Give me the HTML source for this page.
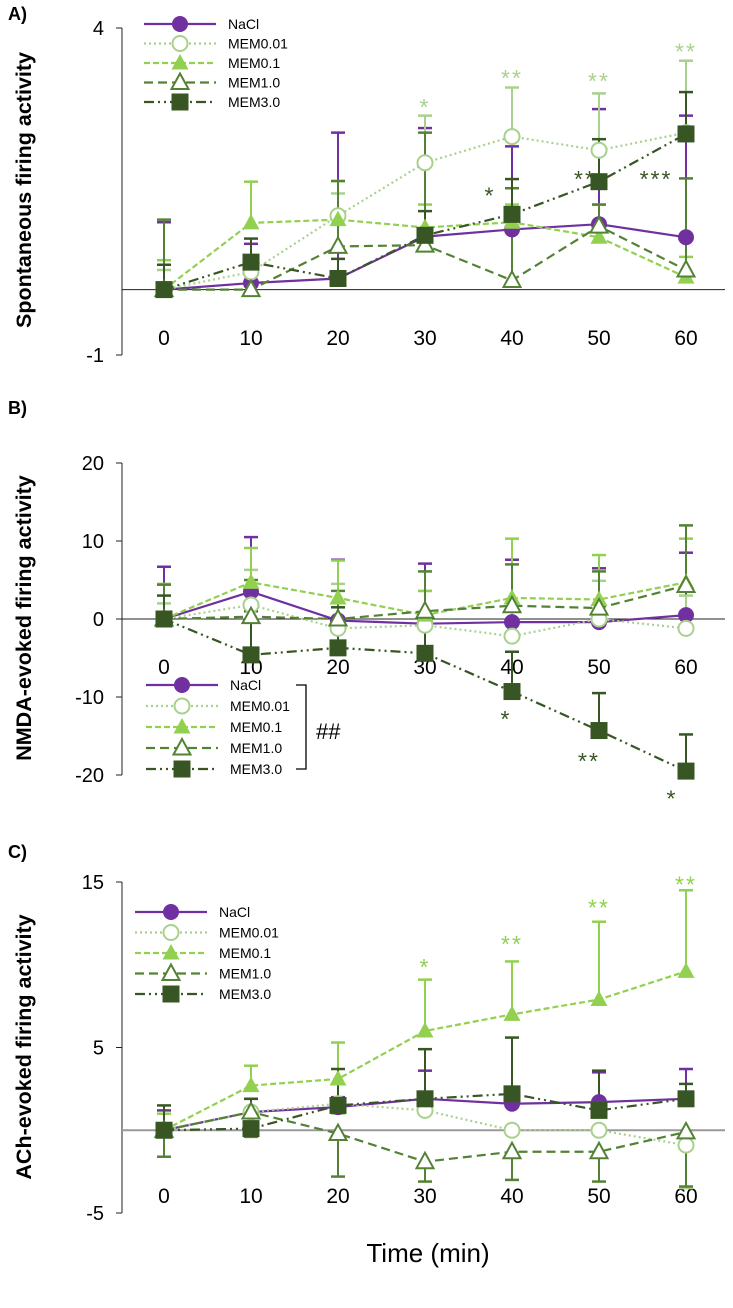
<!DOCTYPE html>
<html><head><meta charset="utf-8"><style>
body{margin:0;background:#fff;width:733px;height:1308px;overflow:hidden}
svg{display:block;font-family:"Liberation Sans",sans-serif}
</style></head><body>
<svg id="chart" width="733" height="1308"></svg>
<script>
const times=[0,10,20,30,40,50,60];
const xTickLabels=["0","10","20","30","40","50","60"];
const seriesNames=["NaCl","MEM0.01","MEM0.1","MEM1.0","MEM3.0"];
// Panel A values / error-bar ends
const aNaCl=[0,0.1,0.17,0.81,0.92,1.0,0.8];
const aMem001=[0,0.27,1.13,1.94,2.34,2.13,2.4];
const aMem01=[0,1.02,1.07,0.95,1.03,0.8,0.19];
const aMem10=[0,0,0.66,0.68,0.14,0.97,0.3];
const aMem30=[0,0.42,0.17,0.83,1.15,1.65,2.38];
const aNaClErr=[1.03,0.7,2.4,2.47,2.19,2.76,2.66];
const aMem001Err=[0.3,0.5,1.47,2.66,3.09,3.0,3.5];
const aMem01Err=[0.45,1.65,1.66,1.3,1.3,1.3,0.5];
const aMem10Err=[1.07,0.3,1.66,2.4,1.55,1.3,1.7];
const aMem30Err=[0.38,0.78,0.47,1.2,1.69,2.3,3.02];
// Panel B
const bNaCl=[0,3.5,-0.2,-0.6,-0.4,-0.4,0.5];
const bMem001=[0,1.8,-1.2,-0.8,-2.2,0,-1.2];
const bMem01=[0,4.7,2.7,0.5,2.7,2.5,4.7];
const bMem10=[0,0.3,0,1,1.7,1.4,4.3];
const bMem30=[0,-4.6,-3.7,-4.4,-9.3,-14.3,-19.5];
const bNaClErr=[6.7,10.5,7.6,7.1,7.6,6.5,8.5];
const bMem001Err=[2,6.3,4.5,3.6,1,4.9,3];
const bMem01Err=[4.5,9.1,7.5,3.6,10.3,8.2,10.3];
const bMem10Err=[4.4,5,3.6,6.1,7,6.1,12];
const bMem30Err=[3,1,1.5,0,-4.2,-9.5,-14.8];
// Panel C
const cNaCl=[0,1.1,1.4,1.9,1.6,1.7,1.9];
const cMem001=[0,1.1,1.6,1.2,0,0,-0.9];
const cMem01=[0,2.7,3.1,6.0,7.0,7.9,9.6];
const cMem10=[0,1.1,-0.2,-1.9,-1.3,-1.3,-0.1];
const cMem30=[0,0.1,1.5,1.9,2.2,1.2,1.9];
const cNaClErr=[1.2,1.9,2,3.6,2,3.5,3.7];
const cMem001Err=[0,0.5,1,1,0,0,-3.5];
const cMem01Err=[1,3.9,5.3,9.1,10.2,12.6,14.5];
const cMem10Err=[-1.6,-0.4,-2.8,-3.1,-3,-3.1,-3.4];
const cMem30Err=[1.5,1.9,3.7,4.9,5.6,3.6,2.8];
// [text, time, value, series, x-offset]
const aStars=[["*",30,2.85,1,0],["**",40,3.3,1,0],["**",50,3.25,1,0],["**",60,3.7,1,0],["*",40,1.5,4,-22],["**",50,1.75,4,-14],["***",60,1.75,4,-30]];
const bStars=[["*",40,-12.3,4,-6],["**",50,-17.7,4,-10],["*",60,-22.5,4,-14]];
const cStars=[["*",30,10.1,2,0],["**",40,11.5,2,0],["**",50,13.7,2,0],["**",60,15.1,2,0]];

const colors=["#7030a0","#a9d18e","#92d050","#548235","#375623"];
const dashes=["","2,3","6,3","9,5","10,4,2,4,2,4"];
const ns="http://www.w3.org/2000/svg";
const svg=document.getElementById('chart');
function el(tag,attrs,parent,text){const e=document.createElementNS(ns,tag);for(const k in attrs)e.setAttribute(k,attrs[k]);if(text!==undefined)e.textContent=text;(parent||svg).appendChild(e);return e;}
const xS=t=>164+t*8.7;

function marker(g,i,x,y){
  const c=colors[i];
  if(i===0)el('circle',{cx:x,cy:y,r:8,fill:c},g);
  else if(i===1)el('circle',{cx:x,cy:y,r:7.5,fill:'#fff',stroke:c,'stroke-width':2},g);
  else if(i===2)el('polygon',{points:`${x},${y-9} ${x+8.5},${y+6.5} ${x-8.5},${y+6.5}`,fill:c},g);
  else if(i===3)el('polygon',{points:`${x},${y-9} ${x+8.5},${y+6.5} ${x-8.5},${y+6.5}`,fill:'#fff',stroke:c,'stroke-width':2},g);
  else el('rect',{x:x-8.5,y:y-8.5,width:17,height:17,fill:c},g);
}

function panel(p){
  const g=el('g',{});
  
  
  const yS=v=>p.y0+(p.top-v)*(p.y1-p.y0)/(p.top-p.bot);
  const ax=el('line',{x1:122,y1:p.y0,x2:122,y2:p.y1,stroke:'#222','stroke-width':1},g);
  
  p.yTicks.forEach(v=>{
    el('line',{x1:116,y1:yS(v),x2:122,y2:yS(v),stroke:'#222'},g);
    const t=el('text',{x:104,y:yS(v)+7,'font-size':20,'text-anchor':'end',fill:'#000'},g,String(v));
    
  });
  const z=el('line',{x1:122,y1:yS(0),x2:725,y2:yS(0),stroke:p.zc,'stroke-width':p.zw},g);
  
  times.forEach((t,i)=>{
    const tl=el('text',{x:xS(t),y:p.xl,'font-size':21,'text-anchor':'middle',fill:'#000'},g,xTickLabels[i]);
    
  });
  const yt=el('text',{transform:`translate(${p.tx},${p.ty}) rotate(-90)`,'font-size':21.5,'font-weight':'bold','text-anchor':'middle',fill:'#000'},g,p.title);
  
  const pl=el('text',{x:8,y:p.ly,'font-size':18,'font-weight':'bold',fill:'#000'},g,p.label);
  
  p.series.forEach((s,i)=>{
    const e=p.errs[i];
    s.forEach((v,j)=>{
      if(e[j]===v)return;
      const x=xS(times[j]);
      const l=el('line',{x1:x,y1:yS(v),x2:x,y2:yS(e[j]),stroke:colors[i],'stroke-width':2},g);
      
      el('line',{x1:x-7,y1:yS(e[j]),x2:x+7,y2:yS(e[j]),stroke:colors[i],'stroke-width':2.5},g);
    });
  });
  p.series.forEach((s,i)=>{
    const pts=s.map((v,j)=>xS(times[j])+','+yS(v)).join(' ');
    const ln=el('polyline',{points:pts,fill:'none',stroke:colors[i],'stroke-width':2.2,'stroke-dasharray':dashes[i]},g);
    
    
  });
  p.series.forEach((s,i)=>{
    s.forEach((v,j)=>{
      const m=el('g',{},g);
      
      marker(m,i,xS(times[j]),yS(v));
    });
  });
  p.stars.forEach(st=>{
    const t=el('text',{x:xS(st[1])+st[4],y:yS(st[2])+12,'font-size':23,'text-anchor':'middle',fill:colors[st[3]],'letter-spacing':'2'},g,st[0]);
    
  });
  const lg=el('g',{},g);
  
  seriesNames.forEach((n,i)=>{
    const y=p.legY+i*p.legDy;
    const le=el('g',{},lg);
    
    el('line',{x1:p.legX,y1:y,x2:p.legX+72,y2:y,stroke:colors[i],'stroke-width':2.2,'stroke-dasharray':dashes[i]},le);
    marker(le,i,p.legX+36,y);
    el('text',{x:p.legX+84,y:y+5,'font-size':14,fill:'#000'},le,n);
  });
}

panel({name:'panel-a-spontaneous',label:'A)',ly:20,title:'Spontaneous firing activity',tx:31,ty:190,
  top:4,bot:-1,y0:28,y1:355,yTicks:[4,-1],xl:345,zc:'#222',zw:1,
  series:[aNaCl,aMem001,aMem01,aMem10,aMem30],errs:[aNaClErr,aMem001Err,aMem01Err,aMem10Err,aMem30Err],
  stars:aStars,legX:144,legY:24,legDy:19.5});
panel({name:'panel-b-nmda',label:'B)',ly:414,title:'NMDA-evoked firing activity',tx:31,ty:618,
  top:20,bot:-20,y0:463,y1:775,yTicks:[20,10,0,-10,-20],xl:674,zc:'#222',zw:1,
  series:[bNaCl,bMem001,bMem01,bMem10,bMem30],errs:[bNaClErr,bMem001Err,bMem01Err,bMem10Err,bMem30Err],
  stars:bStars,legX:146,legY:685,legDy:21});
panel({name:'panel-c-ach',label:'C)',ly:858,title:'ACh-evoked firing activity',tx:31,ty:1047,
  top:15,bot:-5,y0:882,y1:1213,yTicks:[15,5,-5],xl:1203,zc:'#999',zw:2,
  series:[cNaCl,cMem001,cMem01,cMem10,cMem30],errs:[cNaClErr,cMem001Err,cMem01Err,cMem10Err,cMem30Err],
  stars:cStars,legX:135,legY:912,legDy:20.5});

const br=el('polyline',{points:'296,685 306,685 306,769 296,769',fill:'none',stroke:'#000','stroke-width':1.3});

const hh=el('text',{x:316,y:739,'font-size':22,fill:'#000'},svg,'##');

const xt=el('text',{x:428,y:1262,'font-size':26,'text-anchor':'middle',fill:'#000'},svg,'Time (min)');

</script>
</body></html>
